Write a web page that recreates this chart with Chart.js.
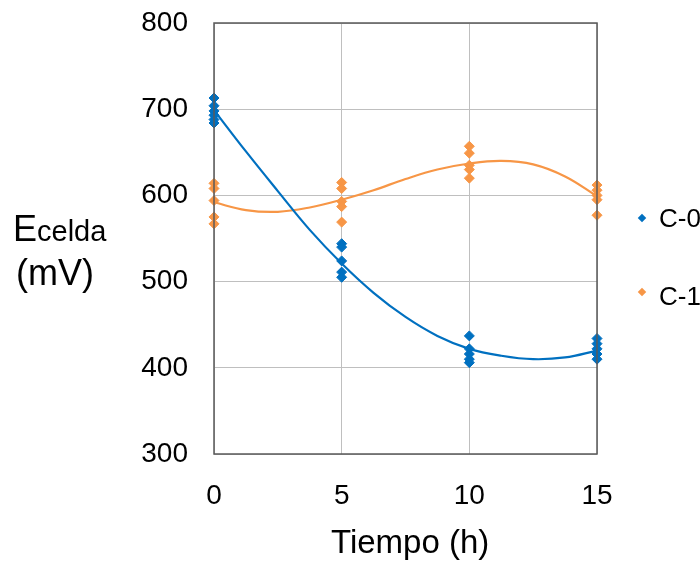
<!DOCTYPE html>
<html>
<head>
<meta charset="utf-8">
<script src="https://cdn.jsdelivr.net/npm/chart.js@4/dist/chart.umd.min.js"></script>
<style>
  html, body { margin: 0; padding: 0; background: #fff; }
  #wrap { position: relative; width: 700px; height: 564px; overflow: hidden; font-family: "Liberation Sans", Arial, sans-serif; color: #000; }
  #c { position: absolute; left: 0; top: 0; }
  .t { position: absolute; white-space: nowrap; }
  .dia { position: absolute; width: 6px; height: 6px; transform: rotate(45deg); }
</style>
</head>
<body>
<div id="wrap">
  <canvas id="c" width="700" height="564"></canvas>
  <div class="t" style="left:13px; top:211px; font-size:36px; line-height:36px;">E<span style="font-size:29px;">celda</span></div>
  <div class="t" style="left:16px; top:255px; font-size:36px; line-height:36px;">(mV)</div>
  <div class="t" style="left:331px; top:525px; font-size:33px; line-height:33px;">Tiempo (h)</div>
  <div class="dia" style="left:639px; top:215px; background:#0070C0;"></div>
  <div class="t" style="left:659px; top:205px; font-size:26px; line-height:26px;">C-0</div>
  <div class="dia" style="left:639px; top:289px; background:#F79646;"></div>
  <div class="t" style="left:659px; top:283px; font-size:26px; line-height:26px;">C-1</div>
</div>
<script>
// Series names
const seriesNames = ['C-0', 'C-1'];

// Measured points (time in h, cell potential in mV)
const c0Time  = [0,0,0,0,0,0, 5,5,5,5,5, 10,10,10,10,10, 15,15,15,15,15];
const c0Volt  = [713,704,698,693,688,684, 544,540,524,511,505, 437,422,416,410,406, 434,428,422,416,410];
const c1Time  = [0,0,0,0,0, 5,5,5,5,5, 10,10,10,10,10, 15,15,15,15,15];
const c1Volt  = [614,608,594,575,567, 615,608,593,587,569, 657,649,635,630,620, 612,606,600,595,577];

// Trend lines
const trendTime = [0,1.25,2.5,3.75,5,6.25,7.5,8.75,10,11.25,12.5,13.75,15];
const c0Trend   = [699,651,605,560,521,487,459,437,422,414,410,412,420];
const c1Trend   = [592,583,581,586,595,606,619,630,637,640,636,622,599];

// Axis ticks
const xTicks = [0,5,10,15];
const yTicks = [300,400,500,600,700,800];

const blue = '#0070C0';
const orange = '#F79646';
const toPts = (xs, ys) => xs.map((x, i) => ({x: x, y: ys[i]}));

const boxPlugin = {
  id: 'box',
  afterDatasetsDraw(chart) {
    const a = chart.chartArea, ctx = chart.ctx;
    ctx.save();
    ctx.strokeStyle = '#595959';
    ctx.lineWidth = 1.5;
    ctx.strokeRect(a.left, a.top, a.right - a.left, a.bottom - a.top);
    ctx.restore();
  }
};

new Chart(document.getElementById('c'), {
  type: 'scatter',
  data: {
    datasets: [
      { label: seriesNames[0] + ' trend', type: 'line', data: toPts(trendTime, c0Trend), borderColor: blue, borderWidth: 2.2, pointRadius: 0, tension: 0.4, fill: false, clip: false, order: 2 },
      { label: seriesNames[1] + ' trend', type: 'line', data: toPts(trendTime, c1Trend), borderColor: orange, borderWidth: 2.2, pointRadius: 0, tension: 0.4, fill: false, clip: false, order: 2 },
      { label: seriesNames[0], data: toPts(c0Time, c0Volt), pointStyle: 'rectRot', pointRadius: 5, backgroundColor: blue, borderColor: blue, borderWidth: 1, clip: false, order: 1 },
      { label: seriesNames[1], data: toPts(c1Time, c1Volt), pointStyle: 'rectRot', pointRadius: 5, backgroundColor: orange, borderColor: orange, borderWidth: 1, clip: false, order: 1 }
    ]
  },
  options: {
    responsive: false,
    animation: false,
    layout: { padding: { top: 23, right: 103, left: 0, bottom: 0 } },
    plugins: { legend: { display: false }, tooltip: { enabled: false } },
    scales: {
      x: {
        type: 'linear', min: xTicks[0], max: xTicks[xTicks.length - 1],
        afterBuildTicks: s => { s.ticks = xTicks.map(v => ({value: v})); },
        afterFit: s => { s.height = 110; s.paddingLeft = 0; s.paddingRight = 0; s.paddingTop = 0; s.paddingBottom = 0; },
        grid: { color: '#BFBFBF', lineWidth: 1, drawTicks: false },
        border: { display: false },
        ticks: { padding: 25, color: '#000', font: { family: 'Liberation Sans, Arial', size: 28 } }
      },
      y: {
        type: 'linear', min: yTicks[0], max: yTicks[yTicks.length - 1],
        afterBuildTicks: s => { s.ticks = yTicks.map(v => ({value: v})); },
        afterFit: s => { s.width = 214; s.paddingTop = 0; s.paddingBottom = 0; s.paddingLeft = 0; s.paddingRight = 0; },
        grid: { color: '#BFBFBF', lineWidth: 1, drawTicks: false },
        border: { display: false },
        ticks: { padding: 26, color: '#000', font: { family: 'Liberation Sans, Arial', size: 28 } }
      }
    }
  },
  plugins: [boxPlugin]
});
</script>
</body>
</html>
